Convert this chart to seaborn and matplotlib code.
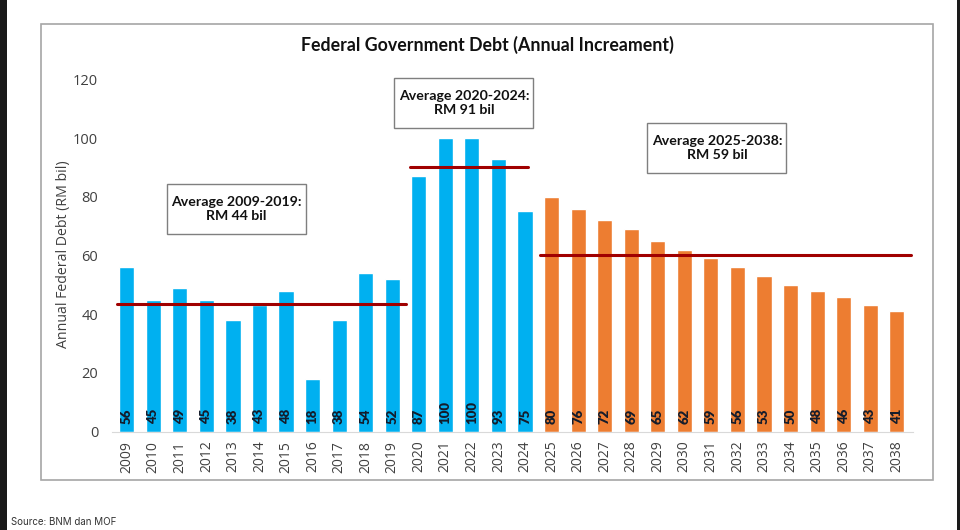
import pandas as pd
import seaborn as sns
import matplotlib.pyplot as plt
from matplotlib.patches import Rectangle

# data
years = [str(y) for y in range(2009, 2039)]
debt = [56, 45, 49, 45, 38, 43, 48, 18, 38, 54, 52,
        87, 100, 100, 93, 75,
        80, 76, 72, 69, 65, 62, 59, 56, 53, 50, 48, 46, 43, 41]
period = ["actual"] * 16 + ["projection"] * 14
avg_levels = [43.5, 90.3, 60.0]
avg_labels = ["Average 2009-2019:\nRM 44 bil",
              "Average 2020-2024:\nRM 91 bil",
              "Average 2025-2038:\nRM 59 bil"]

df = pd.DataFrame({"year": years, "debt": debt, "period": period})

sns.set_style("white")
plt.rcParams["font.family"] = ["Open Sans", "DejaVu Sans"]

W, H = 960, 530
fig = plt.figure(figsize=(9.6, 5.3), dpi=100)
fig.patch.set_facecolor("white")
ax = fig.add_axes([0.1168, 0.1855, 0.8339, 0.6649])

sns.barplot(data=df, x="year", y="debt", hue="period",
            palette=["#00B0F0", "#ED7D31"], dodge=False, width=0.57,
            saturation=1, legend=False, ax=ax)

ax.set_xlim(-0.55, 29.6)
ax.set_ylim(0, 120)
ax.set_yticks(range(0, 121, 20))
ax.set_xlabel("")
ax.set_ylabel("")
for s in ["top", "right", "left"]:
    ax.spines[s].set_visible(False)
ax.spines["bottom"].set_color("#d9d9d9")
ax.tick_params(axis="x", rotation=90, length=0, pad=6.5, labelsize=10,
               colors="#404040")
ax.tick_params(axis="y", length=0, pad=10, labelsize=10.5, colors="#404040")

# value labels inside bars
for i, v in enumerate(debt):
    ax.annotate(str(v), (i, 0), xytext=(0, 5.5), textcoords="offset points",
                rotation=90, ha="center", va="bottom", fontsize=9.5,
                fontweight="heavy", color="#141c2b", family=["Lato", "DejaVu Sans"])

# average lines and boxes (box size ~139x50 px)
spans = [(-0.35, 10.5), (10.68, 15.1), (15.57, 29.54)]
box_pos = [(4.14, 75.7), (12.70, 111.8), (22.23, 96.5)]
bw, bh = 139 / 26.55, 50 / 2.937
for (x0, x1), lvl, lab, (bx, by) in zip(spans, avg_levels, avg_labels, box_pos):
    ax.plot([x0, x1], [lvl, lvl], color="#A00000", lw=2.2, clip_on=False)
    ax.add_patch(Rectangle((bx - bw / 2, by - bh / 2), bw, bh, fc="white",
                           ec="#7f7f7f", lw=1, clip_on=False, zorder=4))
    ax.text(bx, by, lab, ha="center", va="center", fontsize=10.2,
            fontweight="bold", color="#111111", linespacing=1.2,
            family=["Lato", "DejaVu Sans"], zorder=5)

fig.text(487 / W, 1 - 45 / H, "Federal Government Debt (Annual Increament)",
         ha="center", va="center", fontsize=12.8, fontweight="bold",
         color="#111111", family=["Lato", "DejaVu Sans"])
fig.text(63 / W, 1 - 254 / H, "Annual Federal Debt (RM bil)", rotation=90,
         ha="center", va="center", fontsize=10.2, color="#404040")
fig.text(11 / W, 1 - 522 / H, "Source: BNM dan MOF", ha="left", va="center",
         fontsize=7, color="#333333", family=["Inter", "DejaVu Sans"])

# outer chart frame and screenshot edges
fig.add_artist(Rectangle((41 / W, 1 - 480 / H), (933 - 41) / W, (480 - 24) / H,
                         transform=fig.transFigure, fill=False,
                         ec="#a6a6a6", lw=1.2))
fig.add_artist(Rectangle((0, 0), 7 / W, 1, transform=fig.transFigure,
                         fc="#1a1a1a", ec="none"))
fig.add_artist(Rectangle((957 / W, 0), 3 / W, 1, transform=fig.transFigure,
                         fc="#1a1a1a", ec="none"))

fig.savefig("out.png", dpi=100)
